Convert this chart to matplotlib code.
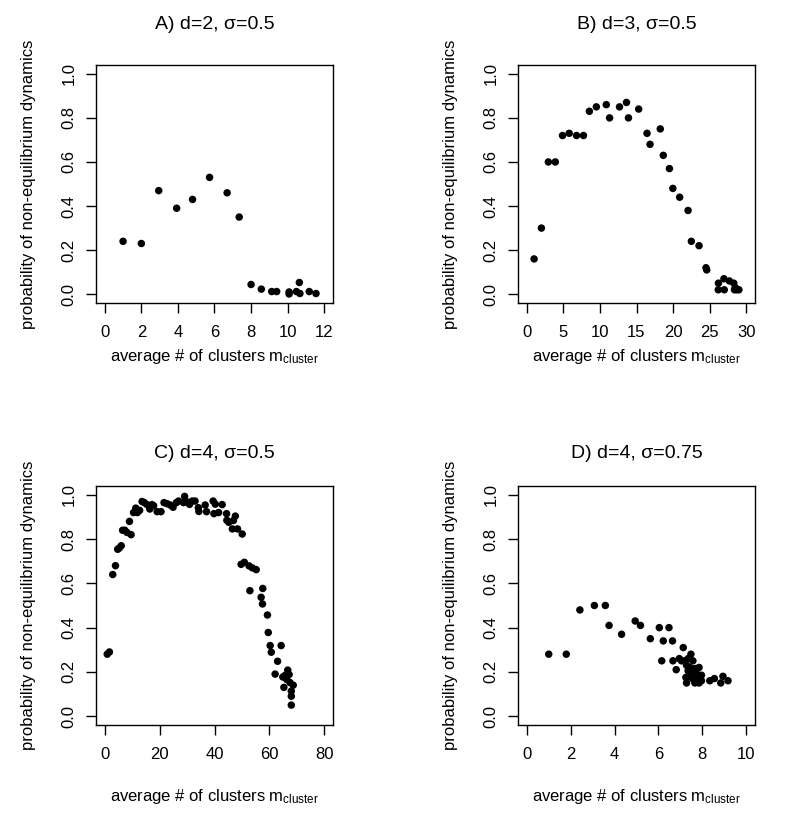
import numpy as np
import matplotlib
matplotlib.use("Agg")
import matplotlib.pyplot as plt

plt.rcParams['font.family'] = ['Liberation Sans', 'DejaVu Sans']
plt.rcParams['mathtext.fontset'] = 'custom'
plt.rcParams['mathtext.rm'] = 'Liberation Sans'
plt.rcParams['mathtext.it'] = 'Liberation Sans:italic'

# panel A: d=2, sigma=0.5
a_x = [1.0, 2.0, 2.95, 3.93, 4.8, 5.73, 6.69, 7.35, 8.0, 8.56, 9.13, 9.4,
       10.08, 10.08, 10.48, 10.64, 10.67, 11.18, 11.55]
a_y = [0.24, 0.23, 0.47, 0.39, 0.43, 0.53, 0.46, 0.35, 0.044, 0.023, 0.012, 0.012,
       0.01, 0.001, 0.012, 0.053, 0.003, 0.012, 0.003]

# panel B: d=3, sigma=0.5
b_x = [1.0, 2.0, 2.95, 3.9, 4.89, 5.8, 6.8, 7.75, 8.56, 9.51, 10.87, 11.32,
       12.68, 13.63, 13.9, 15.3, 16.44, 16.85, 18.25, 18.66, 19.5, 19.97, 20.9,
       22.05, 22.5, 23.55, 24.5, 24.6, 26.2, 26.18, 26.95, 27.0, 27.7, 28.3,
       28.5, 28.7, 29.0, 28.4]
b_y = [0.16, 0.30, 0.60, 0.60, 0.72, 0.73, 0.72, 0.72, 0.83, 0.85, 0.86, 0.80,
       0.85, 0.87, 0.80, 0.84, 0.73, 0.68, 0.75, 0.63, 0.57, 0.48, 0.44,
       0.38, 0.24, 0.22, 0.12, 0.11, 0.05, 0.02, 0.07, 0.02, 0.06, 0.05,
       0.03, 0.02, 0.02, 0.02]

# panel C: d=4, sigma=0.5
c_x = [0.9, 1.7, 2.9, 3.9, 4.7, 5.3, 6.0, 6.5, 7.3, 8.1, 9.6, 9.0,
       10.5, 11.3, 11.9, 12.7, 13.6, 14.4, 15.4, 16.4, 17.2, 17.8, 19.1, 20.5,
       21.6, 22.7, 23.9, 24.9, 26.1, 26.9, 29.1, 30.0, 30.9, 31.9, 32.9, 28.7,
       34.1, 34.3, 36.6, 37.1, 39.5, 40.3, 39.8, 41.5, 42.8,
       44.4, 44.5, 45.2, 46.9, 47.6, 46.5, 48.4, 50.1,
       49.7, 50.9, 52.6, 53.8, 55.2, 52.9, 57.6, 57.0, 57.5, 59.3, 59.6,
       60.3, 60.7, 64.3, 63.0, 62.1, 65.3,
       64.9, 65.8, 66.7, 67.2, 66.3, 67.5, 68.7, 68.0, 68.0, 68.0]
c_y = [0.28, 0.29, 0.64, 0.68, 0.754, 0.76, 0.77, 0.84, 0.84, 0.83, 0.82, 0.88,
       0.92, 0.94, 0.92, 0.93, 0.97, 0.965, 0.956, 0.936, 0.956, 0.951, 0.924, 0.924,
       0.965, 0.96, 0.954, 0.944, 0.965, 0.972, 0.993, 0.968, 0.957, 0.972, 0.972, 0.965,
       0.942, 0.925, 0.954, 0.924, 0.972, 0.958, 0.915, 0.92, 0.956,
       0.915, 0.885, 0.876, 0.884, 0.904, 0.846, 0.846, 0.823,
       0.686, 0.695, 0.679, 0.67, 0.662, 0.567, 0.577, 0.537, 0.507, 0.457, 0.378,
       0.319, 0.289, 0.319, 0.248, 0.19, 0.13,
       0.177, 0.185, 0.208, 0.188, 0.166, 0.152, 0.14, 0.113, 0.09, 0.05]

# panel D: d=4, sigma=0.75
d_x = [1.0, 1.8, 2.42, 3.08, 3.58, 3.75, 4.32, 4.94, 5.18, 5.63, 6.04, 6.48,
       6.22, 6.64, 7.13, 6.15, 6.66, 6.81, 6.95, 7.05, 7.2, 7.35, 7.48, 7.57,
       7.28, 7.43, 7.66, 7.85, 7.35, 7.51, 7.76, 7.96, 7.25, 7.55, 7.81, 7.96,
       7.28, 7.66, 7.85, 8.34, 8.55, 8.84, 8.94, 9.17]
d_y = [0.28, 0.28, 0.48, 0.50, 0.50, 0.41, 0.37, 0.43, 0.41, 0.35, 0.40, 0.40,
       0.34, 0.34, 0.31, 0.25, 0.25, 0.21, 0.26, 0.25, 0.25, 0.26, 0.28, 0.25,
       0.23, 0.22, 0.215, 0.22, 0.205, 0.19, 0.19, 0.185, 0.175, 0.17, 0.165, 0.16,
       0.15, 0.15, 0.15, 0.16, 0.17, 0.15, 0.18, 0.16]

titles = ["A) d=2, σ=0.5", "B) d=3, σ=0.5", "C) d=4, σ=0.5", "D) d=4, σ=0.75"]
xlims = [12, 30, 80, 10]
xsteps = [2, 5, 20, 2]
ylab = "probability of non-equilibrium dynamics"
xlab = "average # of clusters m$_{\\rm cluster}$"

W, H = 795, 827
fig = plt.figure(figsize=(W / 100, H / 100), dpi=100)

# axes boxes in pixels: left, top, right, bottom
boxes = [(96, 65, 333, 303), (518, 65, 755, 303),
         (96, 486, 333, 725), (518, 486, 755, 725)]
title_pads = [26, 26, 20, 20]
xlab_y = [-0.185, -0.185, -0.26, -0.26]

data = [(a_x, a_y), (b_x, b_y), (c_x, c_y), (d_x, d_y)]

for i, (xs, ys) in enumerate(data):
    l, t, r, b = boxes[i]
    ax = fig.add_axes([l / W, 1 - b / H, (r - l) / W, (b - t) / H])
    ax.scatter(xs, ys, s=29, color='black', edgecolors='none', zorder=3)
    pad = 0.04 * xlims[i]
    ax.set_xlim(-pad, xlims[i] + pad)
    ax.set_ylim(-0.04, 1.04)
    ax.set_xticks(np.arange(0, xlims[i] + 0.1, xsteps[i]))
    ax.set_yticks([0, 0.2, 0.4, 0.6, 0.8, 1.0])
    ax.set_yticklabels(["0.0", "0.2", "0.4", "0.6", "0.8", "1.0"],
                       rotation=90, va='center')
    ax.tick_params(axis='both', direction='out', length=7, width=1,
                   labelsize=12, colors='black')
    ax.tick_params(axis='x', pad=9)
    ax.tick_params(axis='y', pad=7)
    for sp in ax.spines.values():
        sp.set_linewidth(1.0)
    ax.set_title(titles[i], fontsize=14, pad=title_pads[i])
    ax.set_ylabel(ylab, fontsize=12)
    ax.yaxis.set_label_coords(-0.255, 0.5)
    ax.set_xlabel(xlab, fontsize=12)
    ax.xaxis.set_label_coords(0.5, xlab_y[i])

fig.savefig("out.png", dpi=100)
